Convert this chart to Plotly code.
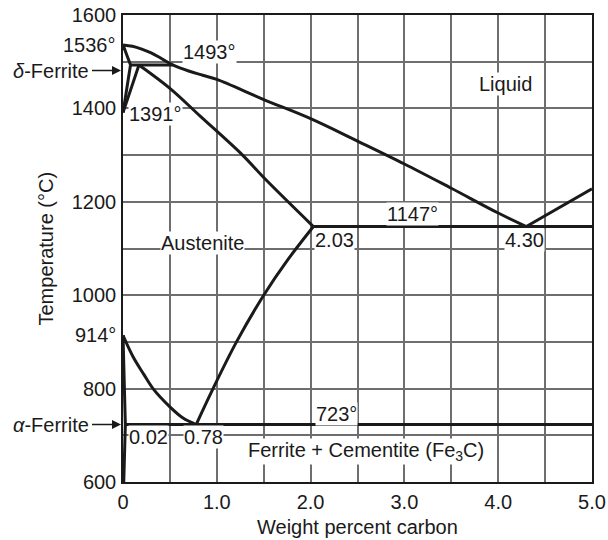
import plotly.graph_objects as go

# ---- data (wt% C, temperature °C) ----
liquidus_x = [0, 0.1, 0.2, 0.3, 0.4, 0.53, 0.7, 0.85, 1.0, 1.5, 2.0, 2.5, 3.0, 3.5, 4.0, 4.3]
liquidus_T = [1536, 1533, 1527, 1519, 1508, 1493, 1480, 1471, 1462, 1419, 1378, 1330, 1281, 1229, 1176, 1147]

hyper_liquidus_x = [4.3, 5.0]
hyper_liquidus_T = [1147, 1228]

delta_solidus_x = [0, 0.08]
delta_solidus_T = [1536, 1493]

delta_gamma_x = [0.08, 0]
delta_gamma_T = [1493, 1391]

gamma_delta_x = [0.17, 0]
gamma_delta_T = [1493, 1391]

peritectic_x = [0.08, 0.53]
peritectic_T = [1493, 1493]

austenite_solidus_x = [0.17, 0.5, 0.82, 1.28, 1.5, 2.03]
austenite_solidus_T = [1493, 1443, 1384, 1299, 1252, 1147]

eutectic_x = [2.03, 5.0]
eutectic_T = [1147, 1147]

acm_x = [0.78, 0.96, 1.21, 1.5, 1.75, 2.03]
acm_T = [723, 800, 900, 1000, 1074, 1147]

a3_x = [0, 0.11, 0.22, 0.32, 0.5, 0.64, 0.78]
a3_T = [914, 867, 831, 800, 761, 737, 723]

alpha_x = [0, 0.025, 0.008]
alpha_T = [914, 723, 600]

eutectoid_x = [0.025, 5.0]
eutectoid_T = [723, 723]

x_tickvals = [0, 0.5, 1, 1.5, 2, 2.5, 3, 3.5, 4, 4.5, 5]
x_ticktext = ["0", "", "1.0", "", "2.0", "", "3.0", "", "4.0", "", "5.0"]
y_tickvals = [600, 700, 800, 900, 1000, 1100, 1200, 1300, 1400, 1500, 1600]
y_ticktext = ["600", "", "800", "", "1000", "", "1200", "", "1400", "", "1600"]
extra_y_labels = [(914, "914°"), (1536, "1536°")]

x_title = "Weight percent carbon"
y_title = "Temperature (°C)"

# region labels: (x, T, text, xanchor)
region_labels = [
    (0.92, 1521, "1493°", "center"),
    (0.05, 1388, "1391°", "left"),
    (4.08, 1452, "Liquid", "center"),
    (0.85, 1111, "Austenite", "center"),
    (2.04, 1119, "2.03", "left"),
    (4.275, 1119, "4.30", "center"),
    (3.09, 1174, "1147°", "center"),
    (2.28, 746, "723°", "center"),
    (0.273, 697, "0.02", "center"),
    (0.853, 697, "0.78", "center"),
    (2.59, 665, "Ferrite + Cementite (Fe<sub>3</sub>C)", "center"),
]
arrow_labels = [(1481, "<i>δ</i>-Ferrite"), (723, "<i>α</i>-Ferrite")]

FONT = "Liberation Sans, Arial, Helvetica, sans-serif"
INK = "#1a1a1a"
LINE = dict(color=INK, width=3)

fig = go.Figure()
curves = [
    (liquidus_x, liquidus_T), (hyper_liquidus_x, hyper_liquidus_T),
    (delta_solidus_x, delta_solidus_T), (delta_gamma_x, delta_gamma_T),
    (gamma_delta_x, gamma_delta_T), (peritectic_x, peritectic_T),
    (austenite_solidus_x, austenite_solidus_T), (eutectic_x, eutectic_T),
    (acm_x, acm_T), (a3_x, a3_T), (alpha_x, alpha_T), (eutectoid_x, eutectoid_T),
]
for cx, cy in curves:
    fig.add_trace(go.Scatter(x=cx, y=cy, mode="lines", line=LINE,
                             hoverinfo="skip", showlegend=False,
                             line_shape="spline" if len(cx) > 3 else "linear"))

annotations = []
for xv, tv, txt, xa in region_labels:
    annotations.append(dict(x=xv, y=tv, xref="x", yref="y", text=txt, showarrow=False,
                            xanchor=xa, yanchor="middle", bgcolor="white", borderpad=0,
                            font=dict(size=20, color=INK, family=FONT)))
for tv, txt in extra_y_labels:
    annotations.append(dict(x=0, y=tv, xref="paper", yref="y", text=txt, showarrow=False,
                            xanchor="right", yanchor="middle", xshift=-5,
                            font=dict(size=20, color=INK, family=FONT)))
for tv, txt in arrow_labels:
    annotations.append(dict(x=0, y=tv, xref="paper", yref="y", text=" ", showarrow=True,
                            ax=-33, ay=0, arrowhead=2, arrowsize=1.2, arrowwidth=1.5,
                            arrowcolor=INK, standoff=2, font=dict(size=4)))
    annotations.append(dict(x=0, y=tv, xref="paper", yref="y", text=txt, showarrow=False,
                            xanchor="right", yanchor="middle", xshift=-32,
                            font=dict(size=20, color=INK, family=FONT)))
annotations.append(dict(x=0.5, y=0, xref="paper", yref="paper", text=x_title,
                        showarrow=False, xanchor="center", yanchor="middle", yshift=-45,
                        font=dict(size=20, color=INK, family=FONT)))
annotations.append(dict(x=0, y=0.5, xref="paper", yref="paper", text=y_title,
                        showarrow=False, xanchor="center", yanchor="middle", xshift=-78,
                        textangle=-90, font=dict(size=20, color=INK, family=FONT)))

fig.update_layout(
    width=608, height=540,
    margin=dict(l=123, r=16, t=15, b=58, autoexpand=False),
    paper_bgcolor="white", plot_bgcolor="white",
    font=dict(family=FONT, size=20, color=INK),
    annotations=annotations,
    xaxis=dict(range=[0, 5], tickvals=x_tickvals, ticktext=x_ticktext,
               showgrid=True, gridcolor="#6e6e6e", gridwidth=1.5,
               showline=True, mirror=True, linecolor=INK, linewidth=1.5,
               ticks="", ticklabelstandoff=1, zeroline=False, automargin=False,
               ticklabeloverflow="allow"),
    yaxis=dict(range=[600, 1600], tickvals=y_tickvals, ticktext=y_ticktext,
               showgrid=True, gridcolor="#6e6e6e", gridwidth=1.5,
               showline=True, mirror=True, linecolor=INK, linewidth=1.5,
               ticks="", ticklabelstandoff=1, zeroline=False, automargin=False,
               ticklabeloverflow="allow"),
)

# remove the page's default 8px body margin so the figure fills the window exactly
fig.write_html(
    "out.html",
    config={"displayModeBar": False},
    post_script="document.body.style.margin='0';document.body.style.overflow='hidden';",
)
